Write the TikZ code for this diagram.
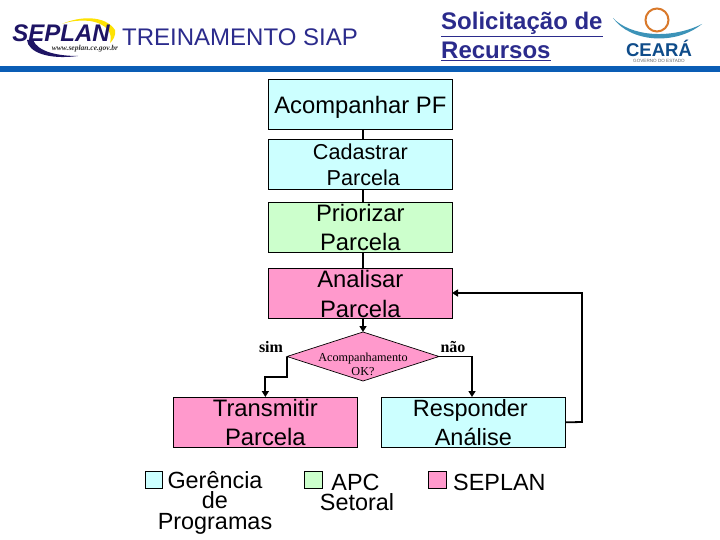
\documentclass[tikz,border=0pt]{standalone}
\usepackage{fontspec}
\setmainfont{Liberation Sans}
\newfontfamily\serifface{Liberation Serif}
\usetikzlibrary{shapes.geometric,arrows.meta,calc}
\definecolor{cyanbox}{HTML}{CCFFFF}
\definecolor{greenbox}{HTML}{CCFFCC}
\definecolor{pinkbox}{HTML}{FF99CC}
\definecolor{navy}{HTML}{2B2B8C}
\definecolor{darknavy}{HTML}{1E1464}
\definecolor{barblue}{HTML}{0A5DB5}
\definecolor{sunorange}{HTML}{D9792B}
\definecolor{wave}{HTML}{3C93B8}
\definecolor{cearablue}{HTML}{0F4C8A}
\newcommand{\fs}[1]{\fontsize{#1}{#1}\selectfont}
% size, line gap, first-baseline offset above the node centre, rows
\newcommand{\rowstext}[4]{\smash{\raisebox{#3}{\fontsize{#1}{#2}\selectfont\begin{tabular}[t]{@{}c@{}}#4\end{tabular}}}}
\tikzset{
  x=1pt,y=-1pt,
  flowbox/.style={draw=black,line width=0.7pt,minimum width=184pt,minimum height=50pt,inner sep=0pt,align=center,anchor=north west,text=black},
  swatch/.style={draw=black,line width=0.6pt,minimum width=17.5pt,minimum height=17pt,inner sep=0pt,anchor=north west},
  legendtext/.style={inner sep=0pt,text=black},
  plain/.style={line width=1.3pt,draw=black},
  flow/.style={line width=1.8pt,draw=black,-{Triangle[length=6pt,width=7pt]}},
}
\begin{document}
\begin{tikzpicture}
\useasboundingbox (0,0) rectangle (720,540);
\fill[white] (0,0) rectangle (720,540);
% bar
\fill[barblue] (0,66) rectangle (720,72);
% SEPLAN logo
\fill[yellow!85!orange] (62,24) .. controls (80,16) and (105,15) .. (115,30) .. controls (116,36) and (113,40) .. (110,43) .. controls (113,34) and (108,24) .. (90,21) .. controls (80,20) and (70,21) .. (62,24) -- cycle;
\fill[darknavy] (27,40) .. controls (28,52) and (48,60) .. (78,56) .. controls (58,56) and (38,52) .. (33,40) -- cycle;
\node[inner sep=0pt,text=darknavy,anchor=base] (seplanlogo) at (61,41.5) {\fs{24}\bfseries\itshape SEPLAN};
\node[inner sep=0pt,text=black!80] (seplanurl) at (85,49) {\serifface\fs{7.5}\bfseries\itshape www.seplan.ce.gov.br};
% headings
\node[inner sep=0pt,text=navy,anchor=base west] (title) at (122,45.5) {\fs{24}TREINAMENTO SIAP};
\node[inner sep=0pt,text=navy,anchor=base west] (sol1) at (441,30) {\fs{24}\bfseries\underline{Solicitação de}};
\node[inner sep=0pt,text=navy,anchor=base west] (sol2) at (441,59) {\fs{24}\bfseries\underline{Recursos}};
% CEARA logo
\draw[sunorange,line width=2pt] (657,20) circle (11.5);
\fill[wave] (613,18) .. controls (630,36) and (670,40) .. (702,24) .. controls (675,46) and (630,42) .. (613,18) -- cycle;
\node[inner sep=0pt,text=cearablue,anchor=base] (ceara) at (659,56.5) {\fs{18.5}\bfseries CEARÁ};
\node[inner sep=0pt,text=black!60,anchor=base] (cearasub) at (659,62.5) {\fs{4.6}GOVERNO DO ESTADO};
% flow boxes
\node[flowbox,fill=cyanbox] (acomp) at (268,79) {\rowstext{23.8}{24}{-9pt}{Acompanhar PF}};
\node[flowbox,fill=cyanbox] (cad) at (268,139) {\rowstext{21.6}{26}{4.5pt}{Cadastrar\\\hspace*{6pt}Parcela}};
\node[flowbox,fill=greenbox] (prio) at (268,202) {\rowstext{23.8}{29}{6pt}{Priorizar\\Parcela}};
\node[flowbox,fill=pinkbox] (anal) at (268,268) {\rowstext{23.8}{29.5}{5.5pt}{Analisar\\Parcela}};
\node[flowbox,fill=pinkbox] (trans) at (173,397) {\rowstext{23.8}{29}{6pt}{Transmitir\\Parcela}};
\node[flowbox,fill=cyanbox] (resp) at (381,397) {\rowstext{23.5}{29}{6pt}{Responder\hspace*{6pt}\\Análise}};
% decision
\coordinate (dc) at (363,356.5);
\path[draw=black,line width=0.7pt,fill=pinkbox] (287,356.5) coordinate (dl) -- (363,332) coordinate (dt) -- (439,356.5) coordinate (dr) -- (363,381) -- cycle;
\node[inner sep=0pt,text=black] (dtext) at (dc) {\serifface\rowstext{12.2}{13.5}{-5.2pt}{Acompanhamento\\OK?}};
% connectors
\draw[plain] (acomp.south -| dc) -- (cad.north -| dc);
\draw[plain] (cad.south -| dc) -- (prio.north -| dc);
\draw[plain] (prio.south -| dc) -- (anal.north -| dc);
\draw[flow] (anal.south -| dc) -- (dt);
\draw[flow] (dl) -- ++(0,20.5) -| (trans.north);
\draw[flow] (dr) -| (resp.north -| 472,397);
\draw[flow] (resp.east) -- (582,422) -- (582,293) -- (452,293);
% labels
\node[inner sep=0pt,text=black] (sim) at (271,347.5) {\serifface\fs{16}\bfseries sim};
\node[inner sep=0pt,text=black] (nao) at (453,347.5) {\serifface\fs{16}\bfseries não};
% legend
\node[swatch,fill=cyanbox] (s1) at (144.5,470.5) {};
\node[swatch,fill=greenbox] (s2) at (304,470.5) {};
\node[swatch,fill=pinkbox] (s3) at (428,470.5) {};
\node[legendtext] (l1) at (215,488) {\rowstext{23.4}{20.5}{0pt}{\smash{Gerência}\\\smash{de}\\\smash{Programas}}};
\node[legendtext] (l2) at (357,490) {\rowstext{23.4}{20}{0pt}{\smash{\hspace*{-3pt}APC}\\\smash{Setoral}}};
\node[legendtext,anchor=base west] (l3) at (453,490) {\fs{23.4}SEPLAN};
\end{tikzpicture}
\end{document}
